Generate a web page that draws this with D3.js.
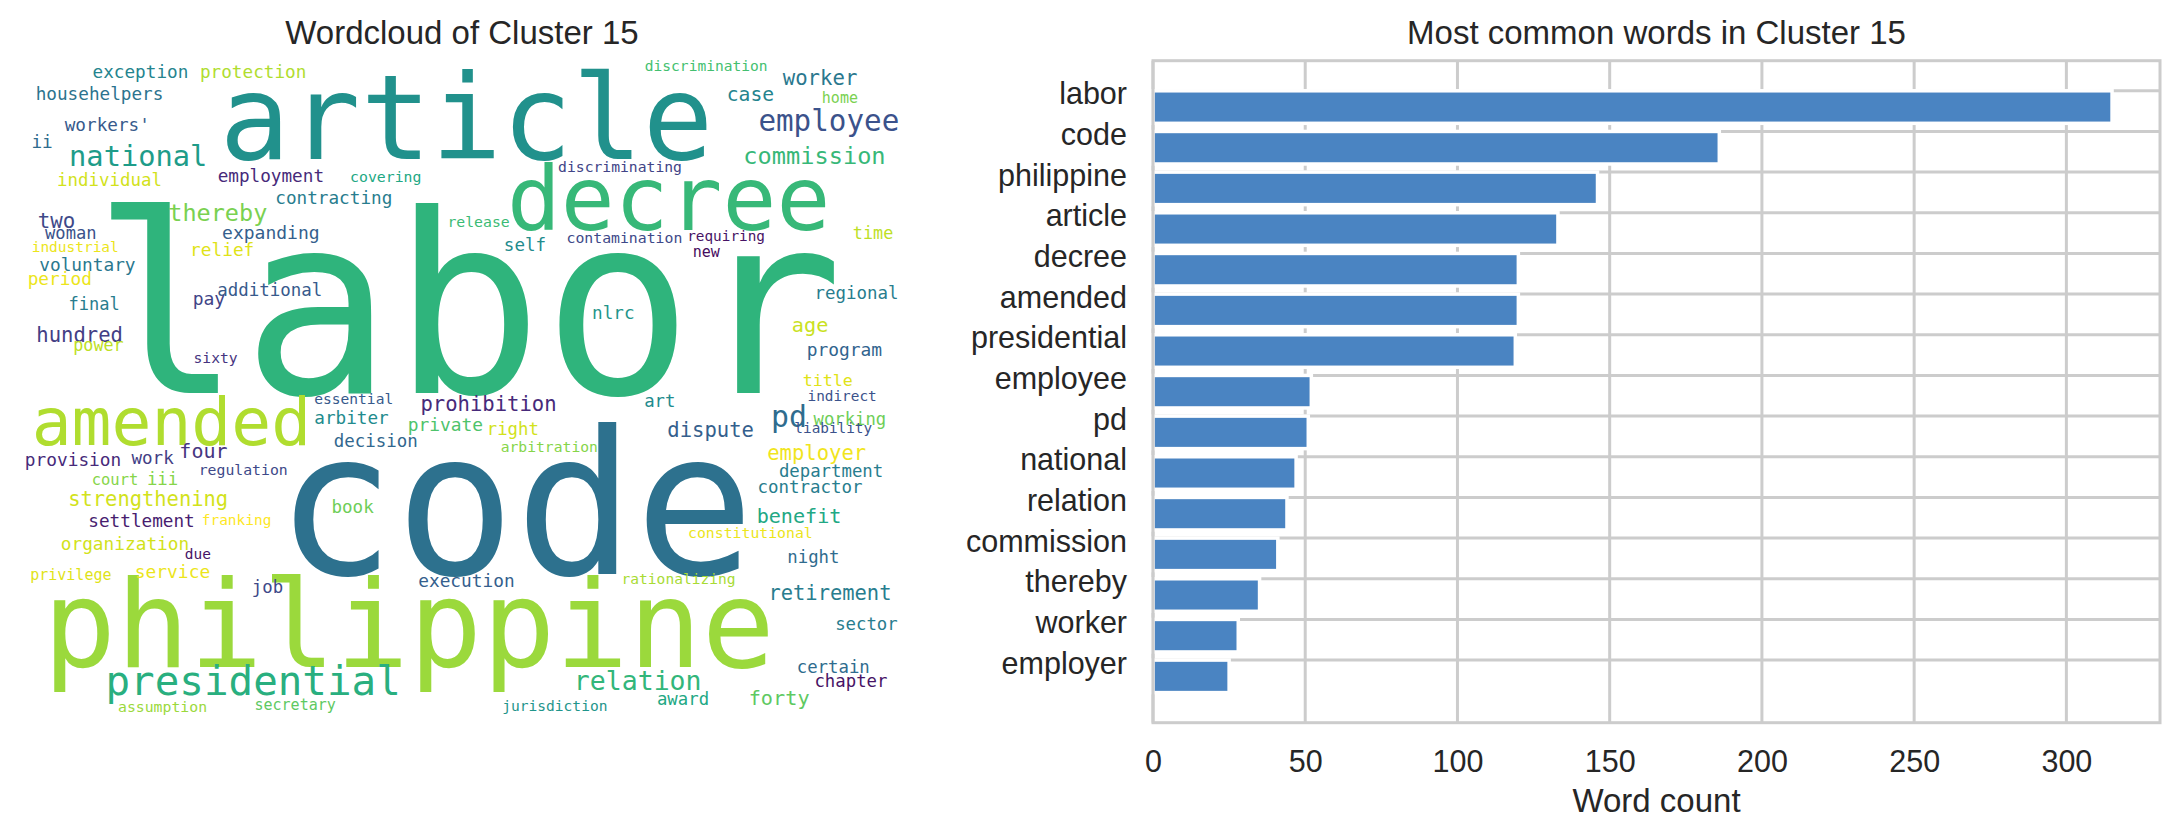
<!DOCTYPE html>
<html>
<head>
<meta charset="utf-8">
<script src="https://cdn.jsdelivr.net/npm/d3@7"></script>
<style>
  body { margin: 0; background: #fff; }
  text { fill: #262626; }
</style>
</head>
<body>
<div id="chart"></div>
<script>
// bar chart data
var barWords = ["labor", "code", "philippine", "article", "decree", "amended", "presidential",
    "employee", "pd", "national", "relation", "commission", "thereby", "worker", "employer"];
var barCounts = [315, 186, 146, 133, 120, 120, 119, 52, 51, 47, 44, 41, 35, 28, 25];
var xTicks = [0, 50, 100, 150, 200, 250, 300];

var cloudWords = ["labor", "code", "philippine", "article", "decree", "amended", "presidential",
    "national", "employee", "pd", "relation", "commission", "thereby", "worker", "two", "hundred",
    "prohibition", "dispute", "employer", "retirement", "strengthening", "age", "benefit", "forty",
    "four", "case", "exception", "protection", "househelpers", "workers'", "ii", "individual",
    "employment", "contracting", "woman", "expanding", "self", "relief", "voluntary", "period",
    "additional", "pay", "final", "power", "regional", "nlrc", "program", "title", "time", "art",
    "working", "arbiter", "private", "right", "decision", "provision", "work", "iii", "department",
    "contractor", "book", "settlement", "organization", "night", "service", "execution", "job",
    "sector", "certain", "chapter", "award", "home", "discrimination", "discriminating", "covering",
    "release", "contamination", "requiring", "new", "industrial", "sixty", "essential", "indirect",
    "liability", "arbitration", "regulation", "court", "franking", "due", "constitutional",
    "privilege", "rationalizing", "jurisdiction", "assumption", "secretary"];
var cloudX = [405, 448, 352, 404, 587, 137, 211, 107, 732, 696, 559, 719, 179, 724, 33, 54,
    424, 625, 721, 733, 116, 715, 705, 687, 166, 661, 109, 211, 72, 79, 20, 81,
    227, 284, 46, 227, 457, 183, 61, 36, 226, 171, 67, 71, 757, 537, 746, 731, 772, 579,
    751, 300, 385, 446, 322, 48, 120, 129, 734, 715, 301, 110, 95, 718, 138, 404, 224,
    766, 736, 752, 600, 742, 621, 543, 331, 415, 547, 639, 621, 50, 177, 302, 744,
    736, 479, 202, 86, 196, 161, 661, 46, 596, 484, 129, 249];
var cloudY = [301, 465, 549, 90, 154, 348, 575, 96, 64, 332, 570, 94, 146, 23, 152, 255,
    318, 341, 362, 489, 404, 246, 419, 584, 360, 37, 16, 16, 36, 64, 80, 114,
    110, 130, 162, 162, 173, 177, 191, 204, 214, 222, 226, 263, 216, 234, 268, 295, 162, 314,
    330, 329, 336, 339, 350, 367, 366, 385, 377, 392, 410, 423, 443, 455, 469, 477, 482,
    516, 555, 567, 584, 39, 10, 101, 110, 151, 166, 164, 178, 174, 274, 311, 309,
    338, 355, 376, 385, 421, 452, 433, 471, 474, 589, 590, 588];
var cloudSize = [226, 180, 110, 106, 81, 60, 37, 26, 26.5, 27, 24, 21.4, 21.3, 18.7, 18.8, 18.6,
    18.6, 18.6, 18.6, 18.5, 18.5, 18.3, 18.2, 18.3, 18.1, 17.8, 16, 16, 16, 16, 16, 15.8,
    16, 16, 15.5, 16.3, 15.9, 16.1, 16.1, 16.1, 15.8, 16.3, 15.4, 15.2, 15.8, 16, 16.2, 15.1, 15.2, 15.7,
    15.6, 16, 16.2, 15.7, 15.8, 16.1, 15.9, 15.7, 15.7, 15.8, 15.9, 16, 16.1, 15.7, 16.2, 16.1, 15.7,
    15.7, 15.7, 15.7, 15.7, 13.6, 13.2, 13.3, 13.4, 13.4, 13.4, 13, 13.6, 13.1, 13.3, 13.2, 13,
    13, 13.3, 13.4, 14, 13.1, 13.1, 13.4, 13.6, 13.2, 13.2, 13.4, 13.6];
var cloudTone = [0.65, 0.37, 0.85, 0.50, 0.67, 0.88, 0.63, 0.55, 0.25, 0.35, 0.66, 0.67, 0.80, 0.40, 0.22, 0.18,
    0.12, 0.30, 0.98, 0.42, 0.93, 0.92, 0.60, 0.75, 0.15, 0.45, 0.45, 0.88, 0.38, 0.28, 0.35, 0.93,
    0.12, 0.42, 0.25, 0.30, 0.48, 0.95, 0.40, 0.97, 0.28, 0.20, 0.42, 0.90, 0.42, 0.52, 0.32, 0.95, 0.90, 0.48,
    0.78, 0.48, 0.72, 0.93, 0.33, 0.12, 0.18, 0.82, 0.42, 0.42, 0.78, 0.08, 0.93, 0.35, 0.97, 0.30, 0.22,
    0.42, 0.35, 0.05, 0.60, 0.80, 0.70, 0.20, 0.60, 0.68, 0.22, 0.05, 0.03, 0.97, 0.15, 0.28, 0.25,
    0.25, 0.82, 0.22, 0.82, 1.00, 0.05, 0.97, 0.95, 0.87, 0.52, 0.85, 0.75];

var svgWidth = 2178;
var svgHeight = 839;

var svg = d3.select("#chart")
    .append("svg")
    .attr("width", svgWidth)
    .attr("height", svgHeight)
    .style("font-family", "'Liberation Sans', Arial, sans-serif");

svg.append("rect")
    .attr("width", svgWidth)
    .attr("height", svgHeight)
    .attr("fill", "white");

// ---- left: word cloud ----
var cx = d3.scaleLinear().domain([0, 800]).range([20, 904]);
var cy = d3.scaleLinear().domain([0, 600]).range([60, 723]);
var cs = d3.scaleLinear().domain([0, 800]).range([0, 884]);

svg.append("text")
    .attr("x", 462)
    .attr("y", 44)
    .attr("text-anchor", "middle")
    .attr("font-size", "33px")
    .text("Wordcloud of Cluster 15");

var cloud = svg.append("g");
cloud.selectAll("text")
    .data(cloudWords)
    .enter()
    .append("text")
    .attr("x", (d, i) => cx(cloudX[i]))
    .attr("y", (d, i) => cy(cloudY[i]))
    .attr("text-anchor", "middle")
    .attr("font-family", "'DejaVu Sans Mono', monospace")
    .attr("font-size", (d, i) => cs(cloudSize[i]) + "px")
    .style("fill", (d, i) => d3.interpolateViridis(cloudTone[i]))
    .text(d => d);

// ---- right: bar chart ----
var axLeft = 1153, axRight = 2160, axTop = 60.7, axBottom = 722.7;

var x = d3.scaleLinear()
    .domain([0, d3.max(barCounts) * 1.05])
    .range([axLeft, axRight]);

var y = d3.scaleLinear()
    .domain([-0.74, barWords.length - 1 + 0.8 + 0.74])
    .range([axTop, axBottom]);

var idx = d3.range(barWords.length);

// gridlines
var grid = svg.append("g").attr("stroke", "#cccccc").attr("stroke-width", 3);
grid.selectAll(".vg")
    .data(xTicks)
    .enter()
    .append("line")
    .attr("x1", d => x(d)).attr("x2", d => x(d))
    .attr("y1", axTop).attr("y2", axBottom);
grid.selectAll(".hg")
    .data(idx)
    .enter()
    .append("line")
    .attr("x1", axLeft).attr("x2", axRight)
    .attr("y1", d => y(d)).attr("y2", d => y(d));

// bars (edge aligned, hanging below their tick)
svg.append("g")
    .selectAll("rect")
    .data(barCounts)
    .enter()
    .append("rect")
    .attr("x", x(0))
    .attr("y", (d, i) => y(i))
    .attr("width", d => x(d) - x(0))
    .attr("height", y(0.8) - y(0))
    .attr("fill", "#4a84c2")
    .attr("stroke", "white")
    .attr("stroke-width", 3.5);

// frame
svg.append("rect")
    .attr("x", axLeft).attr("y", axTop)
    .attr("width", axRight - axLeft).attr("height", axBottom - axTop)
    .attr("fill", "none")
    .attr("stroke", "#cccccc")
    .attr("stroke-width", 3);

// axes
var xAxis = svg.append("g")
    .attr("transform", `translate(0,${axBottom})`)
    .call(d3.axisBottom(x).tickValues(xTicks).tickSize(0));
xAxis.select(".domain").remove();
xAxis.selectAll("text")
    .attr("y", 49)
    .attr("dy", null)
    .attr("font-size", "30.5px")
    .attr("font-family", "'Liberation Sans', Arial, sans-serif")
    .style("fill", "#262626");

var yAxis = svg.append("g")
    .attr("transform", `translate(${axLeft},0)`)
    .call(d3.axisLeft(y).tickValues(idx).tickFormat(i => barWords[i]).tickSize(0));
yAxis.select(".domain").remove();
yAxis.selectAll("text")
    .attr("x", -26)
    .attr("dy", "0.43em")
    .attr("font-size", "30.5px")
    .attr("font-family", "'Liberation Sans', Arial, sans-serif")
    .style("fill", "#262626");

// titles
svg.append("text")
    .attr("x", (axLeft + axRight) / 2)
    .attr("y", 44)
    .attr("text-anchor", "middle")
    .attr("font-size", "33px")
    .text("Most common words in Cluster 15");

svg.append("text")
    .attr("x", (axLeft + axRight) / 2)
    .attr("y", 812)
    .attr("text-anchor", "middle")
    .attr("font-size", "33px")
    .text("Word count");
</script>
</body>
</html>
